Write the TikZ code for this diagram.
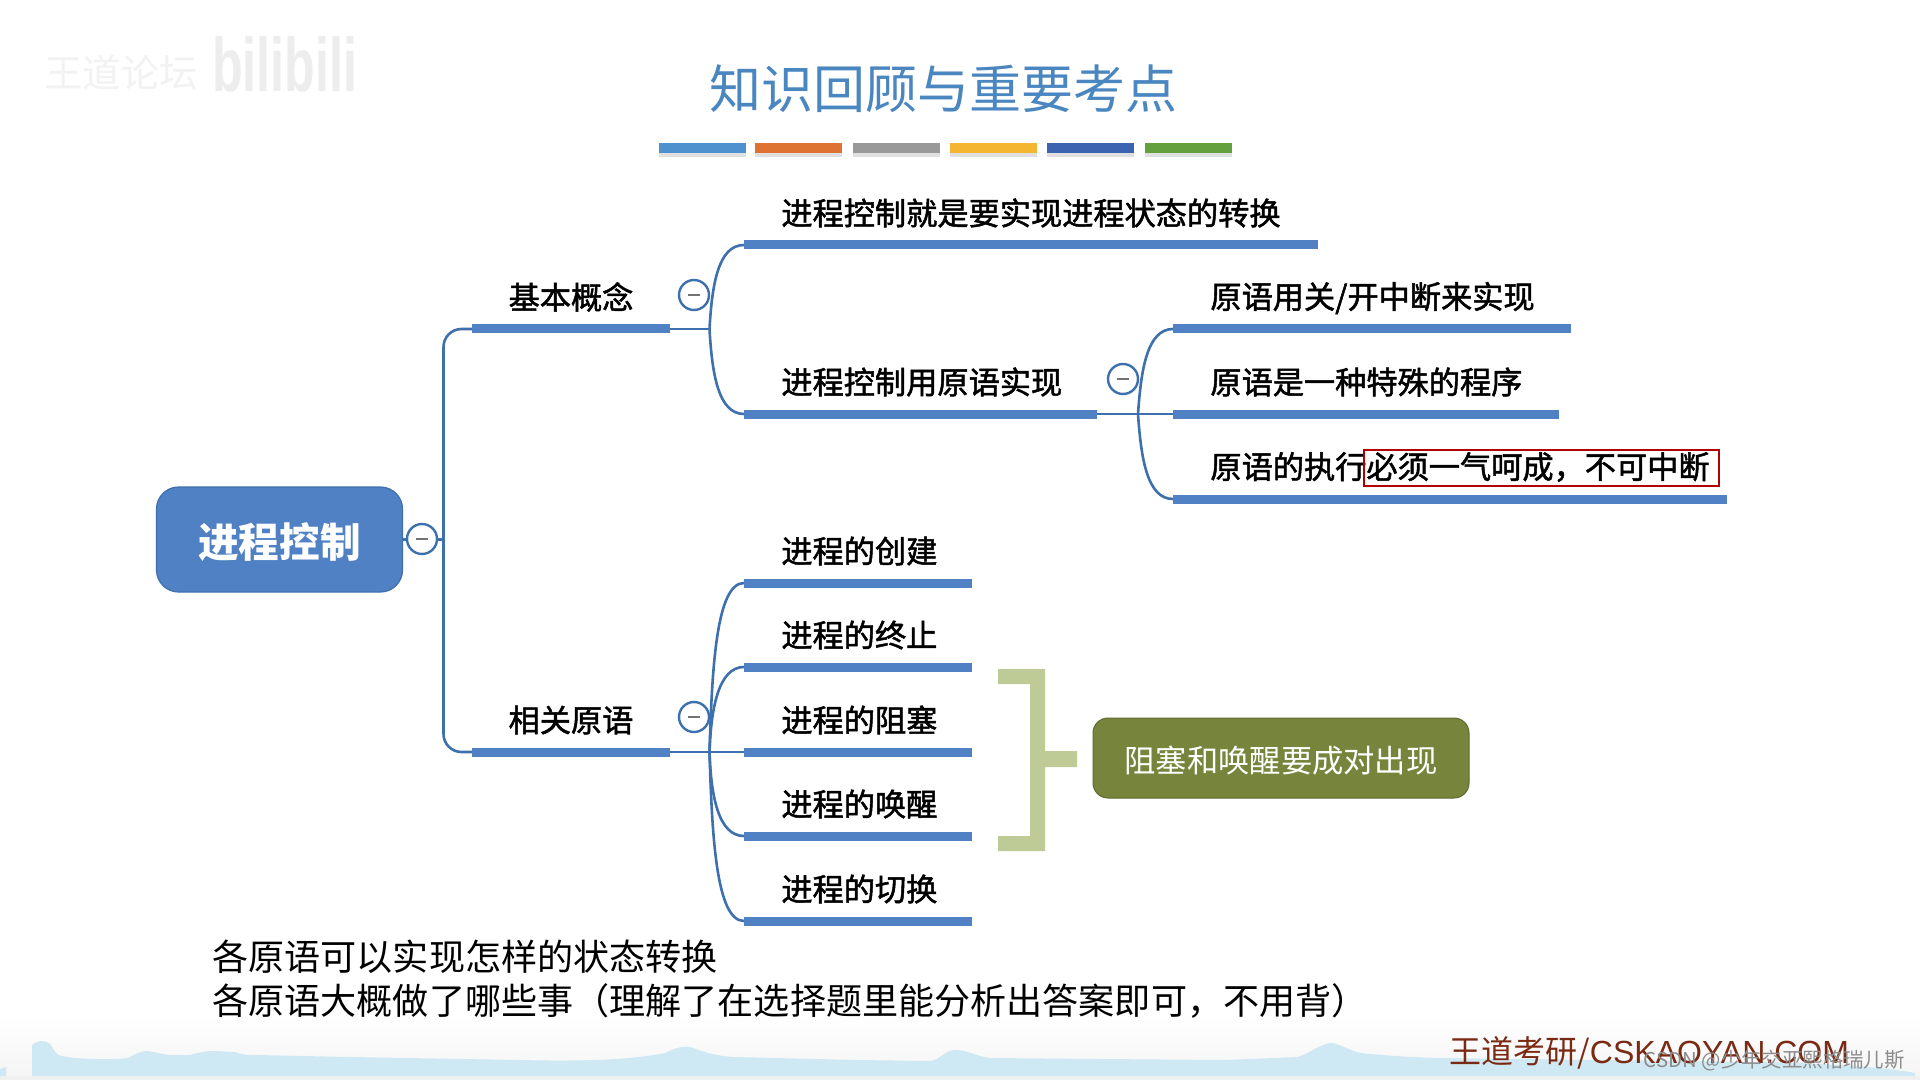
\documentclass[tikz,border=0pt]{standalone}
\usepackage{fontspec}
\setmainfont{Noto Sans CJK SC}
\newfontfamily\medfont[FakeBold=1.6]{Noto Sans CJK SC}
\newfontfamily\latinfont{Liberation Sans}
\definecolor{mapblue}{HTML}{4F81C4}
\definecolor{linkblue}{HTML}{3F70AE}
\definecolor{titleblue}{HTML}{4A86C0}
\definecolor{brk}{HTML}{BFCB97}
\definecolor{olive}{HTML}{76843C}
\definecolor{wave}{HTML}{CFE9F4}
\definecolor{brandred}{HTML}{7A2A12}
\usetikzlibrary{calc}
\tikzset{
  bar/.style={fill=mapblue,draw=none},
  link/.style={draw=linkblue,line width=1.3pt},
  label/.style={anchor=west,inner sep=0pt,font=\medfont\fontsize{15.6pt}{18pt}\selectfont,text=black},
  midlabel/.style={anchor=center,inner sep=0pt,font=\medfont\fontsize{15.6pt}{18pt}\selectfont,text=black},
  toggle/.style={circle,draw=linkblue,fill=white,line width=1.2pt,minimum size=15pt,inner sep=0pt},
  plain/.style={anchor=west,inner sep=0pt,font=\fontsize{18.05pt}{20pt}\selectfont,text=black},
}
\newcommand{\minusmark}[1]{\draw[draw=black!55,line width=1pt] ($(#1)+(-6,0)$) -- ($(#1)+(6,0)$);}
\begin{document}
\begin{tikzpicture}[x=0.5pt,y=-0.5pt]
\useasboundingbox (0,0) rectangle (1920,1080);
\fill[white] (0,0) rectangle (1920,1080);
% footer
\shade[top color=white,bottom color=black!4] (0,1015) rectangle (1920,1076);
\fill[black!6] (0,1076) rectangle (1920,1080);
\fill[wave] (0,1076) -- (0,1069) -- (6,1067) -- (6,1076) -- cycle;
\fill[wave] (32,1076) -- (32,1045) .. controls (36,1041) and (44,1039) .. (50,1044)
  .. controls (54,1049) and (56,1056) .. (62,1056) .. controls (75,1059) and (110,1060) .. (128,1058)
  .. controls (135,1054) and (140,1051) .. (148,1051) .. controls (155,1052) and (160,1054) .. (170,1055)
  -- (190,1055) .. controls (200,1052) and (205,1051) .. (215,1051) -- (235,1052) .. controls (240,1054) and (245,1055) .. (255,1055)
  -- (350,1057) -- (520,1060) .. controls (600,1062) and (640,1058) .. (665,1053)
  .. controls (675,1048) and (682,1046) .. (690,1047) .. controls (700,1050) and (712,1056) .. (735,1057)
  -- (857,1060) -- (930,1061) .. controls (940,1060) and (945,1050) .. (955,1050) .. controls (968,1050) and (975,1056) .. (990,1058)
  -- (1100,1059) -- (1224,1060) -- (1298,1057) .. controls (1312,1052) and (1322,1043) .. (1332,1043)
  .. controls (1342,1044) and (1350,1053) .. (1370,1054) .. controls (1385,1055) and (1400,1057) .. (1440,1058)
  -- (1767,1062) .. controls (1840,1064) and (1890,1068) .. (1915,1073) -- (1915,1076) -- cycle;
% watermark
\node[anchor=west,inner sep=0pt,text=black!5,font=\fontsize{19.2pt}{22pt}\selectfont] (wm1) at (44,73) {王道论坛};
\node[anchor=west,inner sep=0pt,text=black!7,xscale=0.66,font=\latinfont\fontsize{38pt}{40pt}\selectfont\bfseries] (wm2) at (212,64) {bilibili};
% title
\node[inner sep=0pt,text=titleblue,font=\fontsize{26pt}{30pt}\selectfont] (title) at (943,89) {知识回顾与重要考点};
% swatches
\foreach \i/\xa/\xb/\c in {1/659/746/4F91CE,2/755/842/DD7233,3/853/940/999999,4/950/1037/F4B631,5/1047/1134/3B63B0,6/1145/1232/65A03F}{
  \fill[black!12] (\xa,148) rectangle (\xb,157);
  \definecolor{sw}{HTML}{\c}
  \fill[sw] (\xa,143) rectangle (\xb,153);
}
% root
\node[fill=mapblue,draw=linkblue,line width=0.6pt,rounded corners=11pt,minimum width=123pt,minimum height=52.5pt,inner sep=0pt] (root) at (279.5,539.5) {};
\node[inner sep=0pt,text=white,font=\fontsize{20.3pt}{22pt}\selectfont\bfseries] (roottext) at (279.5,542) {进程控制};
% coordinates
\coordinate (trunk) at (443.5,539.5);
\coordinate (j1) at (709.5,329);
\coordinate (j2) at (709.5,752);
\coordinate (j3) at (1138,414);
% bars level 1
\fill[bar] (472,324.5) rectangle (670,333.5); \coordinate (b1L) at (472,329); \coordinate (b1R) at (670,329);
\fill[bar] (472,747.5) rectangle (670,756.5); \coordinate (b2L) at (472,752); \coordinate (b2R) at (670,752);
% links root
\draw[link] (root.east) -- (trunk);
\draw[link,rounded corners=9pt] (b1L) -- (443.5,329) -- (443.5,752) -- (b2L);
% L2 first branch
\foreach \nm/\y/\xe in {a/245/1317.5,b/414/1097}{
  \fill[bar] (744,\y-4.5) rectangle (\xe,\y+4.5);
}
\coordinate (aL) at (744,245); \coordinate (bL) at (744,414); \coordinate (bR) at (1097,414);
\draw[link] (b1R) -- (j1);
\draw[link] (j1) .. controls (712,285) and (718,245) .. (aL);
\draw[link] (j1) .. controls (712,373) and (718,414) .. (bL);
% L3
\foreach \y/\xe in {329/1571,414/1558.5,499/1727}{
  \fill[bar] (1173,\y-4.5) rectangle (\xe,\y+4.5);
}
\coordinate (cL) at (1173,329); \coordinate (dL) at (1173,414); \coordinate (eL) at (1173,499);
\draw[link] (bR) -- (dL);
\draw[link] (j3) .. controls (1141,370) and (1147,329) .. (cL);
\draw[link] (j3) .. controls (1141,458) and (1147,499) .. (eL);
% L2 second branch
\foreach \y in {583,667,752,836,921}{
  \fill[bar] (744,\y-4.5) rectangle (972,\y+4.5);
}
\coordinate (fL) at (744,583); \coordinate (gL) at (744,667); \coordinate (hL) at (744,752); \coordinate (iL) at (744,836); \coordinate (kL) at (744,921);
\draw[link] (b2R) -- (hL);
\draw[link] (j2) .. controls (712,670) and (716,583) .. (fL);
\draw[link] (j2) .. controls (711,710) and (718,667) .. (gL);
\draw[link] (j2) .. controls (711,795) and (718,836) .. (iL);
\draw[link] (j2) .. controls (712,835) and (716,921) .. (kL);
% toggles
\foreach \n/\x/\y in {t0/422/539,t1/694/295,t2/694/717,t3/1123/379}{
  \node[toggle] (\n) at (\x,\y) {};
  \minusmark{\n}
}
% labels
\node[midlabel] (l1) at (571,297) {基本概念};
\node[midlabel] (l2) at (571,720) {相关原语};
\node[label] at (781,213) {进程控制就是要实现进程状态的转换};
\node[label] at (781,382) {进程控制用原语实现};
\node[label] at (1210,298) {原语用关/开中断来实现};
\node[label] at (1210,382) {原语是一种特殊的程序};
\node[label] (exec) at (1210,467) {原语的执行必须一气呵成，不可中断};
\node[label] at (781,551) {进程的创建};
\node[label] at (781,635) {进程的终止};
\node[label] at (781,720) {进程的阻塞};
\node[label] at (781,804) {进程的唤醒};
\node[label] at (781,889) {进程的切换};
\draw[draw=red!70!black,line width=0.8pt] (1364,450) rectangle (1719,486);
% bracket
\fill[brk] (998,669) -- (1045,669) -- (1045,751) -- (1077,751) -- (1077,767) -- (1045,767) -- (1045,851) -- (998,851) -- (998,836) -- (1030,836) -- (1030,684) -- (998,684) -- cycle;
% green box
\node[fill=olive,draw=olive!80!black,line width=0.5pt,rounded corners=7.5pt,minimum width=188pt,minimum height=40pt,inner sep=0pt] (note) at (1281,758) {};
\node[inner sep=0pt,text=white,font=\fontsize{15.65pt}{18pt}\selectfont] (notetext) at (1281,761) {阻塞和唤醒要成对出现};
% bottom text
\node[plain] (n1) at (212,957) {各原语可以实现怎样的状态转换};
\node[plain] (n2) at (212,1001) {各原语大概做了哪些事（理解了在选择题里能分析出答案即可，不用背）};
% footer brand
\node[anchor=west,inner sep=0pt,text=brandred,font=\fontsize{16pt}{18pt}\selectfont] (brand) at (1449,1053) {王道考研/{\latinfont CSKAOYAN.COM}};
\node[anchor=east,inner sep=0pt,text=black!45,font=\fontsize{10.2pt}{12pt}\selectfont] (csdn) at (1905,1061) {CSDN @少年交亚熙格瑞儿斯};
\end{tikzpicture}
\end{document}
